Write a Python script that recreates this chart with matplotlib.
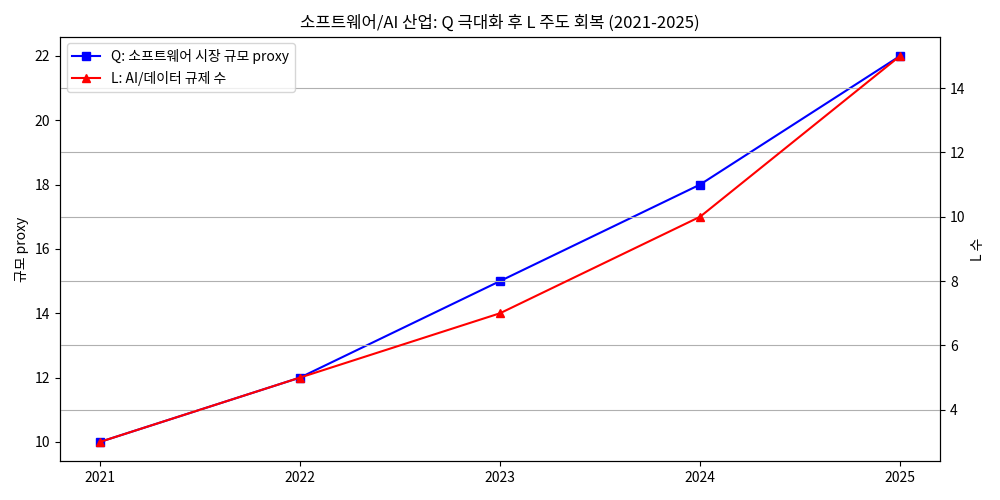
import matplotlib
matplotlib.use("Agg")
import matplotlib.pyplot as plt

plt.rcParams['font.family'] = ['Noto Sans CJK KR', 'DejaVu Sans']

years = [2021, 2022, 2023, 2024, 2025]
q_values = [10, 12, 15, 18, 22]
l_values = [3, 5, 7, 10, 15]

fig, ax1 = plt.subplots(figsize=(10, 5), dpi=100)
ln1 = ax1.plot(years, q_values, color='blue', marker='s', label='Q: 소프트웨어 시장 규모 proxy')
ax1.set_ylabel('규모 proxy')
ax1.set_xticks(years)

ax2 = ax1.twinx()
ln2 = ax2.plot(years, l_values, color='red', marker='^', label='L: AI/데이터 규제 수')
ax2.set_ylabel('L 수')
ax2.grid(True, axis='y')

lines = ln1 + ln2
ax2.legend(lines, [l.get_label() for l in lines], loc='upper left')
ax1.set_title('소프트웨어/AI 산업: Q 극대화 후 L 주도 회복 (2021-2025)')

fig.tight_layout()
fig.savefig('out.png')
